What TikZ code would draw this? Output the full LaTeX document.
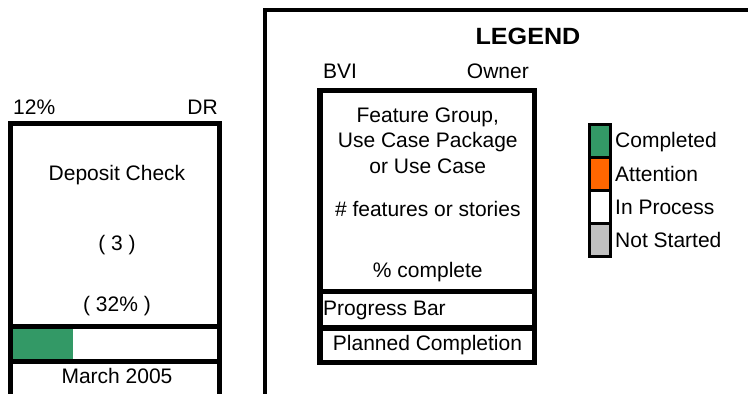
\documentclass[tikz,border=0pt]{standalone}
\usepackage{fontspec}
\setmainfont{Liberation Sans}
\definecolor{donegreen}{HTML}{339966}
\definecolor{attnorange}{HTML}{FF6600}
\definecolor{notgrey}{HTML}{C0C0C0}
\begin{document}
\begin{tikzpicture}[x=1pt,y=-1pt,
  txt/.style={inner sep=0pt,font=\fontsize{21}{25.5}\selectfont},
  frame/.style={line width=5pt},
  thinframe/.style={line width=3.4pt},
  swatch/.style={draw=black,line width=3pt}]
\clip (0,0) rectangle (748,394);
\fill[white] (0,0) rectangle (748,394);

% left card
\fill[donegreen] (12.5,328.5) rectangle (72.7,358.8);
\draw[frame] (10,400) -- (10,123.5) -- (219.2,123.5) -- (219.2,400);
\draw[frame] (10,326) -- (219.2,326);
\draw[frame] (10,361.3) -- (219.2,361.3);
\node[txt,anchor=base west] (pct) at (13,114) {12\%};
\node[txt,anchor=base east] (own) at (218,114) {DR};
\node[txt,anchor=base] (name) at (117,180) {Deposit Check};
\node[txt,anchor=base] (cnt) at (117,250) {( 3 )};
\node[txt,anchor=base] (cpl) at (117,311.5) {( 32\% )};
\node[txt,anchor=base] (date) at (117,383.3) {March 2005};

% legend frame
\draw[thinframe] (265,400) -- (265,10) -- (760,10);
\node[inner sep=0pt,anchor=base,font=\fontsize{23.5}{28}\selectfont\bfseries] (leg) at (528,44) {\scalebox{1.07}[1]{LEGEND}};

% legend card
\draw[line width=5.5pt] (320,90.5) rectangle (534.5,362.3);
\draw[line width=5.5pt] (320,291.7) -- (534.5,291.7);
\draw[line width=5.5pt] (320,327.8) -- (534.5,327.8);
\node[txt,anchor=base west] (bvi) at (323,78.3) {BVI};
\node[txt,anchor=base east] (ownr) at (529,78.3) {Owner};
\node[txt,anchor=base] (fg1) at (427.8,122) {Feature Group,};
\node[txt,anchor=base] (fg2) at (427.8,147.5) {Use Case Package};
\node[txt,anchor=base] (fg3) at (427.8,173) {or Use Case};
\node[txt,anchor=base] (nfeat) at (427.8,216) {\# features or stories};
\node[txt,anchor=base] (pcomp) at (427.8,277.7) {\% complete};
\node[txt,anchor=base west] (pbar) at (323,315) {Progress Bar};
\node[txt,anchor=base] (plan) at (427.5,350) {Planned Completion};

% colour key
\draw[swatch,fill=donegreen] (589.8,124) rectangle (610.8,157);
\draw[swatch,fill=attnorange] (589.8,157) rectangle (610.8,190);
\draw[swatch,fill=white] (589.8,190) rectangle (610.8,223);
\draw[swatch,fill=notgrey] (589.8,223) rectangle (610.8,256);
\node[txt,anchor=base west] (kc) at (615,147.3) {Completed};
\node[txt,anchor=base west] (ka) at (615,181.5) {Attention};
\node[txt,anchor=base west] (kp) at (615,214) {In Process};
\node[txt,anchor=base west] (kn) at (615,247.5) {Not Started};
\end{tikzpicture}
\end{document}
